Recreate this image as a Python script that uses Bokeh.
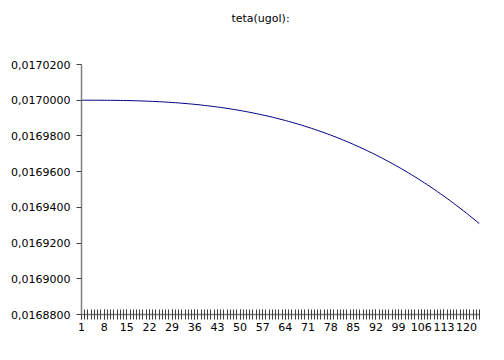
from bokeh.plotting import figure
from bokeh.models import Range1d, FixedTicker, CustomJSTickFormatter, Label
from bokeh.embed import file_html
from bokeh.resources import INLINE

title_text = "teta(ugol):"

# category index 1..124
x_index = list(range(1, 125))

teta = [
    0.017000000, 0.017000000, 0.016999999, 0.016999997, 0.016999993,
    0.016999988, 0.016999980, 0.016999970, 0.016999957, 0.016999941,
    0.016999921, 0.016999898, 0.016999871, 0.016999840, 0.016999804,
    0.016999764, 0.016999719, 0.016999669, 0.016999614, 0.016999553,
    0.016999487, 0.016999415, 0.016999336, 0.016999252, 0.016999161,
    0.016999063, 0.016998958, 0.016998847, 0.016998728, 0.016998601,
    0.016998467, 0.016998325, 0.016998175, 0.016998017, 0.016997851,
    0.016997676, 0.016997492, 0.016997300, 0.016997098, 0.016996887,
    0.016996667, 0.016996437, 0.016996197, 0.016995948, 0.016995688,
    0.016995418, 0.016995139, 0.016994848, 0.016994546, 0.016994234,
    0.016993911, 0.016993577, 0.016993232, 0.016992873, 0.016992504,
    0.016992124, 0.016991730, 0.016991325, 0.016990910, 0.016990481,
    0.016990039, 0.016989583, 0.016989117, 0.016988636, 0.016988142,
    0.016987634, 0.016987113, 0.016986580, 0.016986033, 0.016985471,
    0.016984895, 0.016984305, 0.016983700, 0.016983081, 0.016982448,
    0.016981801, 0.016981141, 0.016980462, 0.016979770, 0.016979064,
    0.016978340, 0.016977602, 0.016976846, 0.016976077, 0.016975289,
    0.016974483, 0.016973671, 0.016972834, 0.016971984, 0.016971117,
    0.016970228, 0.016969325, 0.016968406, 0.016967473, 0.016966520,
    0.016965548, 0.016964567, 0.016963557, 0.016962529, 0.016961492,
    0.016960435, 0.016959355, 0.016958255, 0.016957148, 0.016956010,
    0.016954856, 0.016953694, 0.016952503, 0.016951296, 0.016950073,
    0.016948814, 0.016947555, 0.016946265, 0.016944959, 0.016943640,
    0.016942299, 0.016940927, 0.016939540, 0.016938134, 0.016936713,
    0.016935261, 0.016933794, 0.016932315, 0.016930800,
]

x_tick_labels = list(range(1, 121, 7))
y_ticks = [0.01688, 0.01690, 0.01692, 0.01694, 0.01696, 0.01698, 0.01700, 0.01702]

FONT = "DejaVu Sans"

y_min, y_max = y_ticks[0], y_ticks[-1]
# the plot frame extends invisibly up to the top of the canvas so the
# title (a Label inside the frame) is not clipped; axis bounds keep the
# visible axis to the real value range
AXIS_PX = 250
TOP_PX = 64
y_top = y_max + (y_max - y_min) * TOP_PX / AXIS_PX

p = figure(
    width=488, height=344,
    output_backend="svg", toolbar_location=None,
    x_range=Range1d(1, 124), y_range=Range1d(y_min, y_top),
    min_border_left=81, min_border_right=9,
    min_border_top=0, min_border_bottom=30,
)
p.outline_line_color = None
p.background_fill_color = "white"
p.border_fill_color = "white"
p.grid.visible = False

p.line(x_index, teta, line_color="#000080", line_width=1)

title = Label(
    x=179, y=296, x_units="screen", y_units="screen",
    text=title_text, text_align="center", text_baseline="middle",
    text_font=FONT, text_font_size="11px", text_color="#000000",
)
p.add_layout(title)

xa = p.xaxis[0]
xa.ticker = FixedTicker(ticks=x_tick_labels, minor_ticks=x_index)
xa.axis_line_color = "#808080"
xa.axis_line_width = 1.5
xa.major_tick_line_color = "#404040"
xa.minor_tick_line_color = "#404040"
xa.major_tick_in = 5
xa.major_tick_out = 5
xa.minor_tick_in = 5
xa.minor_tick_out = 5
xa.major_label_text_font = FONT
xa.major_label_text_font_size = "11px"
xa.major_label_text_color = "#000000"
xa.major_label_standoff = 3

ya = p.yaxis[0]
ya.bounds = (y_min, y_max)
ya.ticker = FixedTicker(ticks=y_ticks, minor_ticks=[])
ya.formatter = CustomJSTickFormatter(code="return tick.toFixed(7).replace('.', ',');")
ya.axis_line_color = "#808080"
ya.axis_line_width = 1.5
ya.major_tick_line_color = "#404040"
ya.major_tick_in = 0
ya.major_tick_out = 5
ya.minor_tick_in = 0
ya.minor_tick_out = 0
ya.major_label_text_font = FONT
ya.major_label_text_font_size = "11px"
ya.major_label_text_color = "#000000"
ya.major_label_standoff = 6

open("out.html", "w").write(file_html(p, INLINE))
